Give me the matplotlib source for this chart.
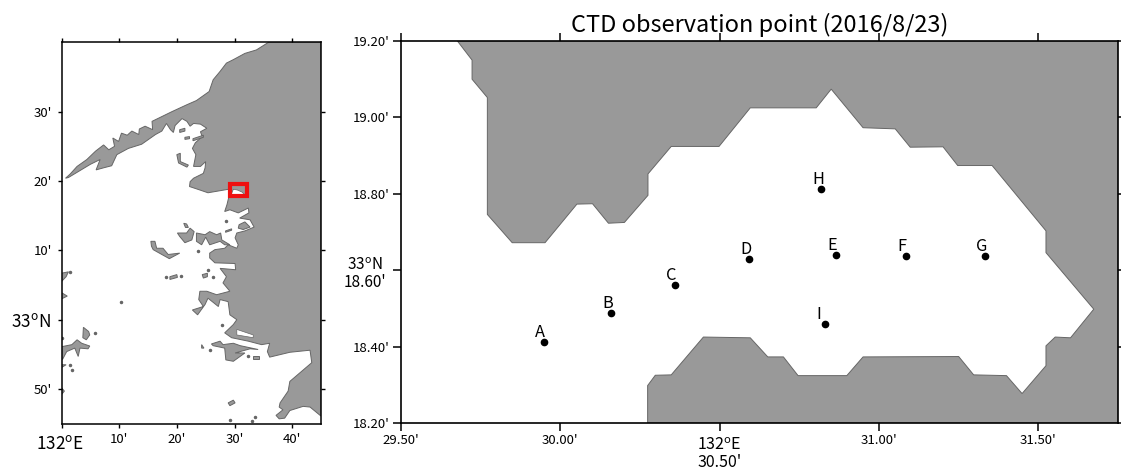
#!/usr/bin/env python3
import matplotlib
matplotlib.use("Agg")
import matplotlib.pyplot as plt
from matplotlib.patches import Polygon, Rectangle

plt.rcParams['font.family'] = ['Noto Sans CJK JP', 'DejaVu Sans']
plt.rcParams['mathtext.fontset'] = 'custom'
plt.rcParams['mathtext.rm'] = 'Noto Sans CJK JP'

LAND = '#999999'
EDGE = '#666666'

# ------------------------------------------------------------
# Left map, in minutes east of 132E / north of 33N
# ------------------------------------------------------------
main_land = [
    (35.9, 40), (33.8, 38.9), (31.8, 38.4), (29.8, 37.5), (28.6, 37.0), (27.5, 35.8),
    (26.3, 34.6), (25.6, 32.9), (23.4, 31.6), (21.75, 31.0), (19.15, 30.0), (15.7, 28.6),
    (15.8, 27.4), (14.5, 27.9), (13.5, 27.5), (13.4, 26.7), (12.2, 27.2), (11.4, 26.6),
    (10.4, 26.9), (9.9, 25.7), (8.9, 26.2), (9.2, 25.0), (8.2, 24.5), (7.3, 25.2),
    (5.9, 24.3), (4.4, 23.1), (2.7, 22.1), (1.5, 21.0), (0.7, 20.4), (1.2, 20.5),
    (3.0, 21.4), (5.0, 22.4), (6.7, 23.1), (6.0, 21.6), (7.3, 21.9), (8.7, 22.2),
    (9.6, 23.8), (11.6, 24.7), (13.9, 25.3), (16.3, 26.7), (17.4, 27.2), (18.2, 28.3),
    (18.9, 27.4), (19.4, 27.0), (19.7, 28.0), (20.9, 29.0), (21.75, 28.6), (22.3, 27.9),
    (22.9, 28.3), (24.1, 28.2), (25.2, 27.6), (24.1, 27.1), (24.4, 26.4), (23.2, 25.5),
    (22.7, 24.7), (23.3, 23.8), (22.9, 22.1), (24.1, 22.1), (25.0, 22.8), (24.9, 21.9),
    (24.6, 21.1), (22.9, 20.4), (22.3, 19.9), (22.2, 19.2), (24.0, 18.7), (25.4, 18.3),
    (27.5, 18.6), (28.9, 18.8), (29.2, 18.3), (28.9, 17.3), (28.7, 16.6), (28.3, 15.6),
    (29.2, 15.85), (30.65, 15.4), (32.4, 16.1), (32.5, 15.4), (30.9, 14.65), (32.7, 14.4),
    (33.4, 13.35), (31.8, 12.8), (30.4, 12.5), (30.1, 11.8), (30.65, 10.8), (30.4, 10.3),
    (28.9, 10.8), (28.3, 10.3), (26.6, 10.1), (25.7, 9.6), (25.7, 8.9), (26.6, 8.2),
    (30.1, 8.1), (30.2, 7.2), (27.5, 7.4), (28.6, 6.2), (28.0, 5.3), (29.2, 4.1),
    (26.9, 3.6), (25.2, 4.1), (24.0, 4.1), (23.8, 2.9), (24.6, 1.9), (22.7, 1.4),
    (23.6, 0.7), (24.9, 2.2), (25.4, 3.1), (27.2, 1.9), (27.5, 2.9), (28.9, 2.6),
    (29.2, 0.7), (30.4, 0.0), (29.8, -0.7), (28.3, -1.9), (29.5, -2.6), (32.4, -3.1),
    (34.7, -3.6), (36.1, -3.4), (35.7, -4.6), (36.1, -5.4), (39.6, -4.7), (43.1, -4.4),
    (43.4, -6.2), (39.6, -8.9), (39.3, -10.3), (37.9, -12.0), (37.75, -12.6), (38.4, -13.0),
    (37.2, -13.8), (37.75, -14.3), (38.7, -14.2), (39.6, -13.1), (41.9, -12.5), (43.1, -12.6),
    (45, -13.9), (45, 40),
]
islands = [
    [(26.0, -3.5), (27.5, -3.1), (28.0, -3.6), (29.8, -3.4), (31.0, -3.75), (34.1, -4.3),
     (32.7, -4.2), (30.1, -4.8), (31.8, -4.8), (29.8, -6.0), (28.5, -5.8), (28.3, -4.1), (26.3, -3.75)],
    [(20.0, 23.8), (20.6, 24.0), (20.6, 22.8), (22.0, 22.3), (21.75, 22.0), (20.3, 22.6)],
    [(20.5, 27.4), (21.4, 27.6), (21.4, 27.2), (20.5, 27.0)],
    [(21.4, 26.3), (22.2, 26.4), (22.2, 26.1), (21.4, 26.0)],
    [(22.8, 26.1), (24.6, 26.6), (24.6, 26.3), (22.8, 25.8)],
    [(30.8, 13.7), (31.8, 14.1), (32.7, 13.35), (31.5, 13.0), (30.65, 13.2)],
    [(20.1, 12.5), (21.7, 12.5), (22.3, 13.2), (23.0, 12.7), (22.6, 11.5), (21.4, 11.1), (20.5, 12.0)],
    [(23.4, 12.5), (24.9, 12.25), (25.7, 12.7), (26.9, 12.25), (27.6, 12.5), (27.8, 11.5),
     (29.2, 10.8), (28.3, 10.8), (27.5, 11.3), (25.7, 10.8), (25.0, 11.9), (24.3, 10.8), (23.4, 11.3)],
    [(15.5, 11.3), (16.2, 11.3), (16.5, 10.3), (17.6, 10.3), (18.5, 9.4), (20.5, 9.6),
     (18.7, 8.8), (17.4, 9.4), (15.9, 10.1), (15.6, 10.6)],
    [(21.2, 13.9), (21.7, 13.8), (22.0, 13.3), (21.5, 13.3)],
    [(28.45, 12.8), (29.5, 13.1), (29.5, 12.9), (28.45, 12.6)],
    [(18.8, 6.2), (20.0, 6.5), (20.1, 6.1), (18.8, 5.8)],
    [(24.4, 6.5), (25.3, 6.7), (25.3, 6.2), (24.6, 6.0)],
    [(0, 6.7), (1.2, 6.9), (0.8, 6.2), (0, 5.5)],
    [(0, 3.9), (1.0, 3.4), (0, 3.0)],
    [(3.8, -1.1), (4.7, -1.7), (4.9, -2.2), (4.3, -2.9), (3.7, -2.6)],
    [(0, -3.9), (1.8, -3.6), (2.7, -2.9), (3.5, -3.4), (4.9, -3.8), (4.6, -4.2), (3.2, -4.1),
     (2.9, -5.3), (2.3, -4.1), (0.9, -4.6), (0.2, -5.7), (0, -5.7)],
    [(0, -6.5), (0.8, -6.5), (0, -6.9)],
    [(0, -9.8), (0.5, -10.3), (0, -10.8)],
    [(28.9, -12.0), (29.8, -11.6), (30.1, -12.0), (29.2, -12.4)],
    [(24.3, -3.6), (24.7, -4.1), (24.3, -4.1)],
    [(33.2, -5.3), (34.2, -5.3), (34.2, -5.6), (33.2, -5.6)],
]
islet_x = [23.7, 18.2, 20.8, 25.4, 26.3, 27.8, 1.4, 10.4, 5.8, 1.4, 1.8, 0.1, 29.3, 33.5, 33.0, 25.7, 32.4, 28.6]
islet_y = [9.85, 6.1, 6.3, 7.2, 6.2, -0.7, 6.9, 2.6, -1.9, -6.6, -7.2, -2.6, -14.4, -14.0, -14.6, -4.3, -5.3, 14.2]
bay_inset = [(29.4, 18.0), (29.8, 18.8), (30.5, 18.7), (31.3, 18.4), (31.8, 18.0), (31.8, 17.8), (29.4, 17.8)]
inlet_slit = [(30.4, -1.4), (33.25, -2.2), (33.25, -2.6), (30.4, -2.2)]

left_xticks = [0, 10, 20, 30, 40]
left_xlabels = ["", "10'", "20'", "30'", "40'"]
left_yticks = [-10, 0, 10, 20, 30]
left_ylabels = ["50'", "", "10'", "20'", "30'"]

# ------------------------------------------------------------
# Right map, observation area
# ------------------------------------------------------------
bay_coast = [
    (29.677, 19.2), (29.723, 19.150), (29.723, 19.100), (29.771, 19.052), (29.771, 18.746),
    (29.849, 18.672), (29.952, 18.672), (30.052, 18.773), (30.101, 18.774), (30.151, 18.723),
    (30.201, 18.725), (30.275, 18.796), (30.275, 18.852), (30.348, 18.924), (30.498, 18.924),
    (30.596, 19.025), (30.803, 19.025), (30.850, 19.074), (30.950, 18.973), (31.051, 18.970),
    (31.098, 18.922), (31.201, 18.923), (31.247, 18.874), (31.355, 18.874), (31.524, 18.703),
    (31.524, 18.646), (31.674, 18.498), (31.601, 18.423), (31.553, 18.425), (31.524, 18.402),
    (31.524, 18.350), (31.449, 18.277), (31.400, 18.324), (31.297, 18.326), (31.250, 18.374),
    (30.950, 18.373), (30.899, 18.324), (30.746, 18.324), (30.700, 18.373), (30.651, 18.373),
    (30.596, 18.423), (30.449, 18.425), (30.348, 18.326), (30.298, 18.325), (30.274, 18.298),
    (30.274, 18.2), (31.75, 18.2), (31.75, 19.2),
]
station_names = ['A', 'B', 'C', 'D', 'E', 'F', 'G', 'H', 'I']
station_lon = [29.948, 30.158, 30.359, 30.593, 30.866, 31.084, 31.332, 30.818, 30.831]
station_lat = [18.413, 18.487, 18.561, 18.629, 18.639, 18.636, 18.637, 18.812, 18.459]

right_xticks = [29.5, 30.0, 30.5, 31.0, 31.5]
right_xlabels = ["29.50'", "30.00'", "", "31.00'", "31.50'"]
right_yticks = [18.2, 18.4, 18.6, 18.8, 19.0, 19.2]
right_ylabels = ["18.20'", "18.40'", "", "18.80'", "19.00'", "19.20'"]

fig = plt.figure(figsize=(11.21, 4.70), dpi=100)
W, H = 1121.0, 470.0

# left panel
ax1 = fig.add_axes([61.5 / W, (H - 423.7) / H, 259.5 / W, 381.4 / H])
ax1.add_patch(Polygon(main_land, fc=LAND, ec=EDGE, lw=0.7, zorder=1))
for isl in islands:
    ax1.add_patch(Polygon(isl, fc=LAND, ec=EDGE, lw=0.7, zorder=1))
ax1.plot(islet_x, islet_y, 'o', ms=1.5, color=EDGE, zorder=1)
ax1.add_patch(Polygon(inlet_slit, fc='white', ec=EDGE, lw=0.5, zorder=2))
ax1.add_patch(Polygon(bay_inset, fc='white', ec=EDGE, lw=0.5, zorder=2))
ax1.add_patch(Rectangle((29.15, 17.85), 3.05, 1.75, fc='none', ec='#ee1111', lw=3, zorder=3))
ax1.set_xlim(0, 45)
ax1.set_ylim(-15, 40)
ax1.set_xticks(left_xticks, left_xlabels, fontsize=9.5)
ax1.set_yticks(left_yticks, left_ylabels, fontsize=9.5)
ax1.tick_params(length=3, width=1, top=True, right=True, direction='out', pad=4)
for s in ax1.spines.values():
    s.set_linewidth(1.1)

ax1.annotate("33$^{\\mathrm{o}}$N", xy=(0, 0), xycoords=ax1.get_yaxis_transform(), xytext=(-22, -1.5),
             textcoords='offset points', ha='center', va='center', fontsize=12.4)
ax1.annotate("132$^{\\mathrm{o}}$E", xy=(0, 0), xycoords=ax1.get_xaxis_transform(), xytext=(-1, -8),
             textcoords='offset points', ha='center', va='top', fontsize=12.4)

# right panel
ax2 = fig.add_axes([401 / W, (H - 423) / H, 717 / W, 382 / H])
ax2.add_patch(Polygon(bay_coast, fc=LAND, ec=EDGE, lw=0.7, zorder=1))
ax2.plot(station_lon, station_lat, 'o', ms=4.5, color='black', zorder=3)
for name, lon, lat in zip(station_names, station_lon, station_lat):
    ax2.annotate(name, (lon, lat), xytext=(-6.3, 3.6), textcoords='offset points',
                 ha='left', va='baseline', fontsize=11.8, zorder=4)
ax2.set_xlim(29.5, 31.75)
ax2.set_ylim(18.2, 19.2)
ax2.set_xticks(right_xticks, right_xlabels, fontsize=9.5)
ax2.set_yticks(right_yticks, right_ylabels, fontsize=9.5)
ax2.tick_params(length=6, width=1.1, top=True, right=True, direction='out', pad=2)
for s in ax2.spines.values():
    s.set_linewidth(1.2)
ax2.set_title("CTD observation point (2016/8/23)", fontsize=17, pad=6.7)

ax2.annotate("33$^{\\mathrm{o}}$N\n18.60'", xy=(0, 18.6), xycoords=ax2.get_yaxis_transform(), xytext=(-26, -2.5),
             textcoords='offset points', ha='center', va='center', ma='center', fontsize=11, linespacing=1.0)
ax2.annotate("132$^{\\mathrm{o}}$E\n30.50'", xy=(30.5, 0), xycoords=ax2.get_xaxis_transform(), xytext=(0, -10),
             textcoords='offset points', ha='center', va='top', ma='center', fontsize=11.5, linespacing=1.0,
             annotation_clip=False)

fig.savefig("out.png", dpi=100)
